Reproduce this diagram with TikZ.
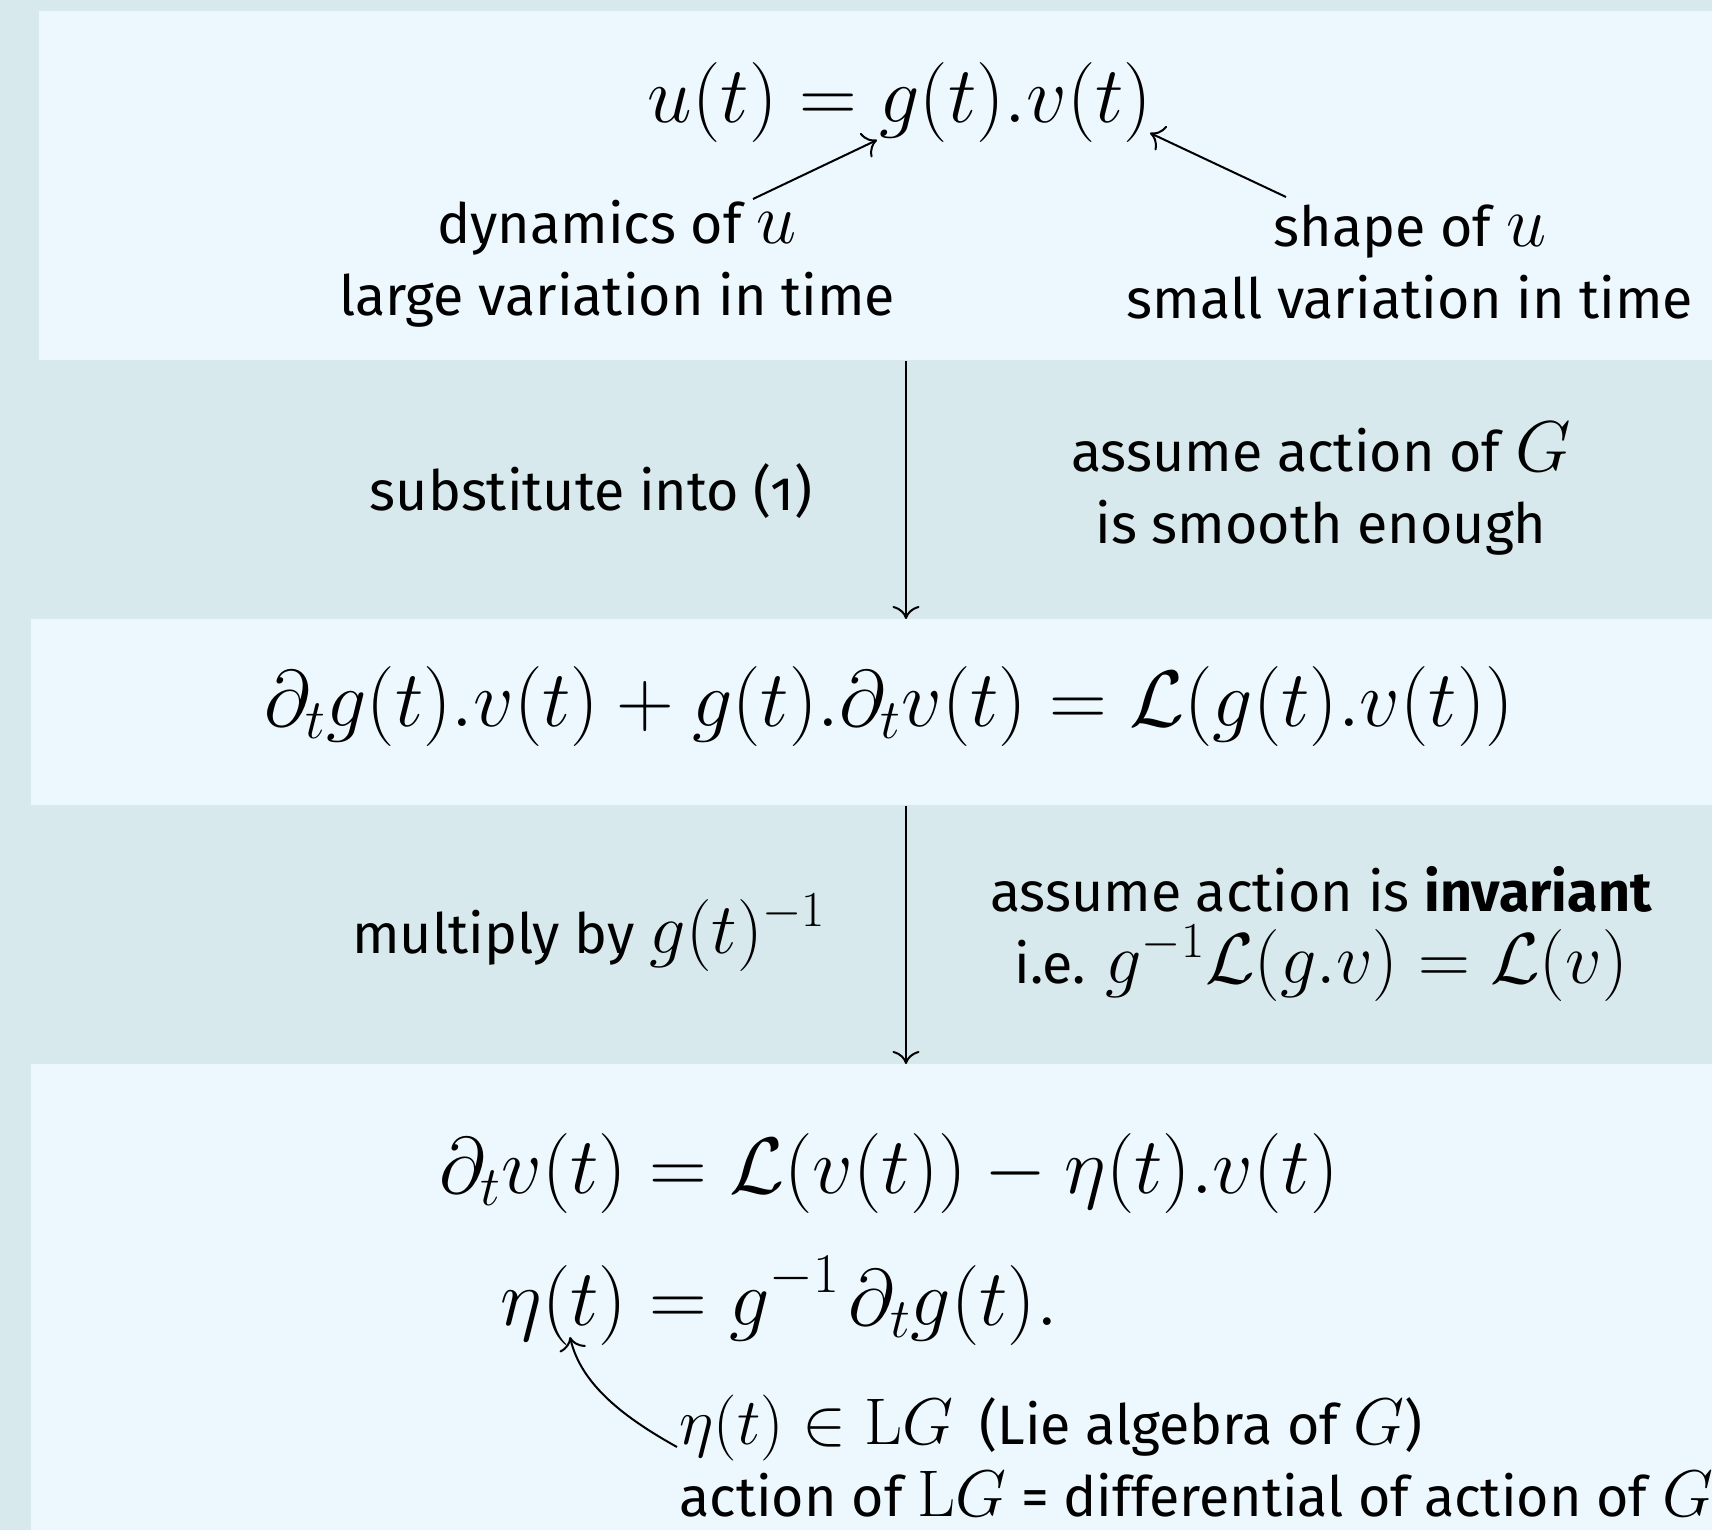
\documentclass[tikz,border=0pt]{standalone}
\usepackage{fix-cm}
\usepackage{amsmath}
\usepackage[no-math]{fontspec}
\setmainfont{Fira Sans}[Scale=0.7716, Numbers=OldStyle]
\usetikzlibrary{arrows.meta}
\definecolor{bgc}{HTML}{D7E9ED}
\definecolor{boxc}{HTML}{EDF8FE}
\newcommand\lblmath[1]{{\fontsize{33}{36}\selectfont$#1$}}
\tikzset{
  panel/.style={fill=boxc, draw=none, inner sep=0pt, anchor=north west},
  txt/.style={inner sep=0pt, align=center, font=\fontsize{36}{36}\selectfont},
  eqn/.style={inner sep=0pt, font=\fontsize{40}{48}\selectfont},
  arr/.style={-{To[length=6.5pt,width=13.5pt]}, line width=1pt},
}
\begin{document}
\begin{tikzpicture}[x=0.5pt, y=-0.5pt]
\useasboundingbox (0,0) rectangle (1712,1530);
\fill[bgc] (0,0) rectangle (1712,1530);
% panels
\node[panel, minimum width=840.5pt, minimum height=174.5pt] (box1) at (39,11) {};
\node[panel, minimum width=844.5pt, minimum height=93pt] (box2) at (31,619) {};
\node[panel, minimum width=844.5pt, minimum height=238pt] (box3) at (31,1064) {};
% top panel
\node[eqn, anchor=base] (eq1) at (900,123) {$u(t) = g(t).v(t)$};
\node[txt] (lab1) at (617,264) {dynamics of $u$\\large variation in time};
\node[txt] (lab2) at (1410,262) {shape of $u$\\small variation in time};
\coordinate (s1) at (753,199);
\coordinate (e1) at (877,140);
\coordinate (s2) at (1286,197);
\coordinate (e2) at (1150,133);
\draw[arr] (s1) -- (e1);
\draw[arr] (s2) -- (e2);
% first step
\coordinate (axis) at (906,0);
\draw[arr] (box1.south -| axis) -- (box2.north -| axis);
\node[txt] (sub) at (591,491) {substitute into (1)};
\node[txt] (smooth) at (1321,489) {assume action of $G$\\is smooth enough};
% second panel
\node[eqn, anchor=base] (eq2) at (889,726) {$\partial_t g(t).v(t) + g(t).\partial_t v(t) = \mathcal{L}(g(t).v(t))$};
% second step
\draw[arr] (box2.south -| axis) -- (box3.north -| axis);
\node[txt, anchor=base] (mult) at (589,953) {multiply by $g(t)^{-1}$};
\node[txt] (inv) at (1321,934) {assume action is \textbf{invariant}\\i.e. $g^{-1}\mathcal{L}(g.v) = \mathcal{L}(v)$};
% third panel
\node[eqn] (eq3) at (889,1240) {$\begin{aligned}
\partial_t v(t) &= \mathcal{L}(v(t)) - \eta(t).v(t)\\[13pt]
\eta(t) &= g^{-1}\mkern2mu\partial_t g(t).
\end{aligned}$};
\node[txt, align=left, anchor=west] (lie) at (679,1456) {\lblmath{\eta(t) \in \mathrm{L}G}\hspace{13pt}(Lie algebra of \lblmath{G})\\action of \lblmath{\mathrm{L}G} = differential of action of \lblmath{G}};
\coordinate (cs) at (677,1447);
\coordinate (ce) at (570,1337);
\draw[arr] (cs) .. controls (625,1418) and (581,1385) .. (ce);
\end{tikzpicture}
\end{document}
